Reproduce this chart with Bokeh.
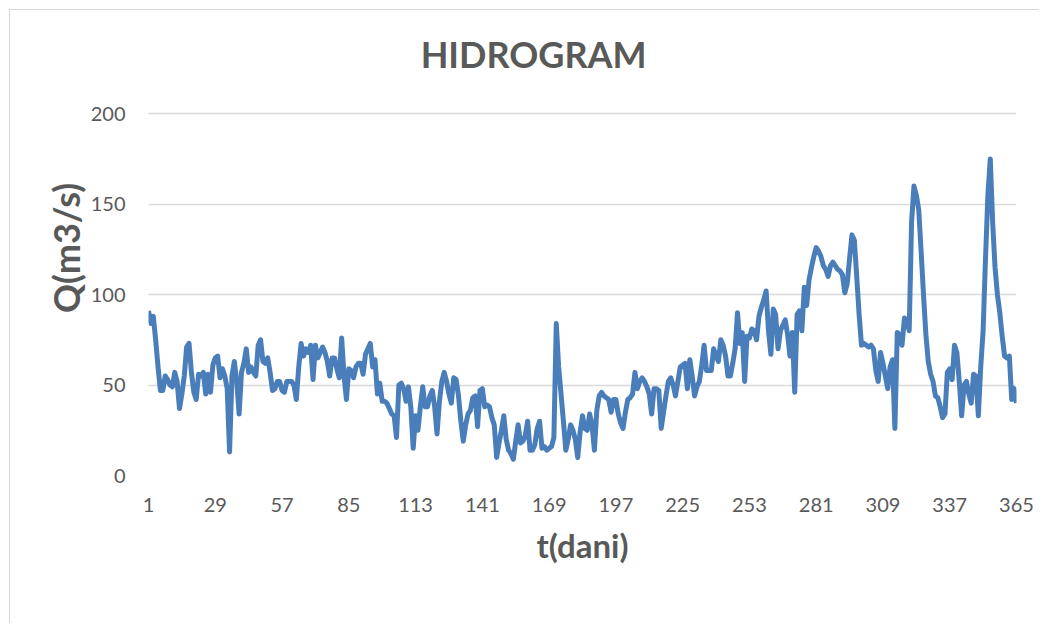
from bokeh.plotting import figure
from bokeh.models import Range1d, FixedTicker, ColumnDataSource, Label
from bokeh.embed import file_html
from bokeh.resources import INLINE

# Daily discharge Q (m3/s), days 1..365
q_01_50 = [91, 84, 88, 75, 60, 47, 47, 55, 53, 50,
           49, 57, 52, 37, 45, 55, 71, 73, 57, 46,
           42, 56, 55, 57, 45, 56, 46, 61, 65, 66,
           54, 59, 55, 48, 13, 55, 63, 52, 34, 57,
           62, 70, 57, 60, 57, 55, 72, 75, 63, 62]
q_51_100 = [65, 57, 47, 48, 52, 52, 47, 46, 52, 52,
            52, 50, 42, 60, 73, 66, 70, 68, 72, 53,
            72, 65, 68, 71, 68, 63, 55, 65, 65, 59,
            54, 76, 55, 42, 59, 58, 54, 60, 62, 62,
            56, 67, 70, 73, 60, 64, 45, 51, 41, 41]
q_101_150 = [40, 37, 34, 33, 21, 50, 51, 48, 41, 49,
             38, 15, 33, 25, 38, 49, 38, 38, 44, 47,
             38, 23, 41, 52, 57, 52, 45, 40, 54, 53,
             44, 30, 19, 28, 34, 36, 43, 44, 27, 47,
             48, 38, 39, 38, 32, 28, 10, 18, 25, 33]
q_151_200 = [20, 14, 12, 9, 19, 28, 18, 19, 22, 30,
             14, 14, 17, 26, 30, 15, 16, 14, 15, 16,
             21, 84, 60, 45, 30, 14, 20, 28, 25, 20,
             10, 24, 33, 26, 25, 34, 28, 14, 36, 44,
             46, 44, 43, 42, 35, 42, 42, 34, 29, 26]
q_201_250 = [35, 42, 43, 45, 57, 48, 52, 54, 52, 49,
             45, 34, 48, 48, 47, 26, 35, 44, 52, 54,
             50, 44, 52, 60, 61, 62, 48, 64, 55, 44,
             49, 52, 61, 72, 58, 58, 58, 70, 66, 63,
             75, 72, 66, 55, 55, 62, 70, 90, 73, 79]
q_251_300 = [52, 77, 76, 81, 80, 75, 88, 93, 97, 102,
             80, 67, 92, 89, 70, 80, 83, 86, 78, 66,
             79, 46, 89, 91, 80, 104, 94, 108, 115, 121,
             126, 124, 121, 116, 114, 110, 116, 118, 116, 114,
             113, 111, 101, 106, 120, 133, 130, 110, 89, 72]
q_301_350 = [73, 72, 71, 72, 70, 58, 52, 68, 62, 55,
             48, 60, 64, 26, 79, 78, 72, 87, 86, 80,
             140, 160, 155, 147, 124, 100, 78, 63, 56, 52,
             44, 43, 38, 32, 34, 57, 59, 53, 72, 68,
             52, 33, 50, 52, 45, 40, 56, 55, 33, 60]
q_351_365 = [80, 120, 155, 175, 140, 115, 100, 90, 77, 66,
             65, 66, 42, 48, 40]

q = q_01_50 + q_51_100 + q_101_150 + q_151_200 + q_201_250 + q_251_300 + q_301_350 + q_351_365
days = list(range(1, len(q) + 1))
x_ticks = [1, 29, 57, 85, 113, 141, 169, 197, 225, 253, 281, 309, 337, 365]
y_ticks = [0, 50, 100, 150, 200]

FONT = "Lato"
GREY = "#595959"

# the frame extends above the 200 gridline to host the chart title
p = figure(width=1030, height=614, output_backend="svg", toolbar_location=None,
           x_range=Range1d(1, 365), y_range=Range1d(0, 251.5),
           min_border_left=138, min_border_right=24, min_border_top=10, min_border_bottom=149)
p.styles = {"border-left": "1px solid #d9d9d9", "border-top": "1px solid #d9d9d9",
            "margin-left": "9px", "margin-top": "9px"}
p.outline_line_color = None
p.background_fill_color = "white"
p.border_fill_color = "white"

src = ColumnDataSource(dict(day=days, q=q))
p.line("day", "q", source=src, line_color="#4a7ebb", line_width=5, line_join="round")

p.xgrid.visible = False
p.ygrid.ticker = FixedTicker(ticks=y_ticks)
p.ygrid.grid_line_color = "#d9d9d9"
p.ygrid.grid_line_width = 1.5

for ax in (p.xaxis[0], p.yaxis[0]):
    ax.axis_line_color = None
    ax.major_tick_line_color = None
    ax.minor_tick_line_color = None
    ax.major_label_text_font = FONT
    ax.major_label_text_font_size = "20px"
    ax.major_label_text_color = GREY
    ax.axis_label_text_font = FONT
    ax.axis_label_text_font_style = "bold"
    ax.axis_label_text_color = GREY

p.xaxis.axis_label_text_font_size = "33px"
p.yaxis.axis_label_text_font_size = "36px"
p.xaxis.ticker = FixedTicker(ticks=x_ticks)
p.yaxis.ticker = FixedTicker(ticks=y_ticks)
p.xaxis.major_label_standoff = 16
p.yaxis.major_label_standoff = 17
p.xaxis.axis_label = "t(dani)"
p.yaxis.axis_label = "Q(m3/s)"
p.xaxis.axis_label_standoff = 10
p.yaxis.axis_label_standoff = 0

title = Label(x=162.5, y=233, text="HIDROGRAM", text_align="center", text_baseline="middle",
              text_font=FONT, text_font_size="36px", text_font_style="bold", text_color=GREY)
p.add_layout(title)

open("out.html", "w").write(file_html(p, INLINE))
